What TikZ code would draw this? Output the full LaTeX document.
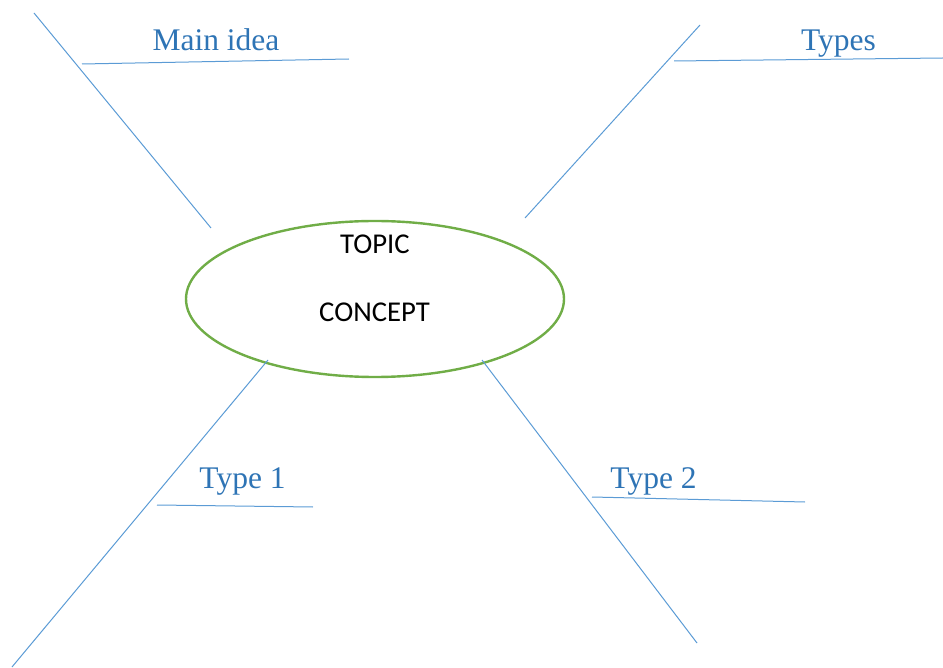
\documentclass[tikz,border=0pt]{standalone}
\usepackage{fontspec}
\setmainfont{Liberation Serif}
\newfontfamily\calib{Carlito}
\usetikzlibrary{shapes.geometric}
\definecolor{lineblue}{HTML}{5B9BD5}
\definecolor{textblue}{HTML}{2E74B5}
\definecolor{ovgreen}{HTML}{70AD47}
\tikzset{
  branch/.style={draw=lineblue, line width=1pt},
  lbl/.style={text=textblue, font=\fontsize{31.5}{36}\selectfont, anchor=base, inner sep=0pt},
  ctext/.style={font=\calib\fontsize{28.7}{34}\selectfont, anchor=base, inner sep=0pt},
}
\begin{document}
\begin{tikzpicture}[x=1pt,y=-1pt]
\useasboundingbox (0,0) rectangle (943,668);
% central ellipse
\node[ellipse, draw=ovgreen, line width=2.4pt, minimum width=378pt, minimum height=156pt, inner sep=0pt] (topic) at (375,299) {};
\node[ctext] (t1) at (375,254) {TOPIC};
\node[ctext] (t2) at (374.5,321.5) {CONCEPT};
% branch end points
\coordinate (a1) at (34,13);   \coordinate (a2) at (211,228);
\coordinate (b1) at (82,64);   \coordinate (b2) at (349,59);
\coordinate (c1) at (700,25);  \coordinate (c2) at (525,218);
\coordinate (d1) at (674,61);  \coordinate (d2) at (943,58);
\coordinate (e1) at (268,360); \coordinate (e2) at (12,667);
\coordinate (f1) at (157,505); \coordinate (f2) at (313,507);
\coordinate (g1) at (482,360); \coordinate (g2) at (697,643);
\coordinate (h1) at (592,497); \coordinate (h2) at (805,502);
\draw[branch] (a1) -- (a2);
\draw[branch] (b1) -- (b2);
\draw[branch] (c1) -- (c2);
\draw[branch] (d1) -- (d2);
\draw[branch] (e1) -- (e2);
\draw[branch] (f1) -- (f2);
\draw[branch] (g1) -- (g2);
\draw[branch] (h1) -- (h2);
% labels
\node[lbl] (l1) at (216,51) {Main idea};
\node[lbl] (l2) at (838.5,51) {Types};
\node[lbl] (l3) at (242.5,488) {Type 1};
\node[lbl] (l4) at (653.5,488) {Type 2};
\end{tikzpicture}
\end{document}
